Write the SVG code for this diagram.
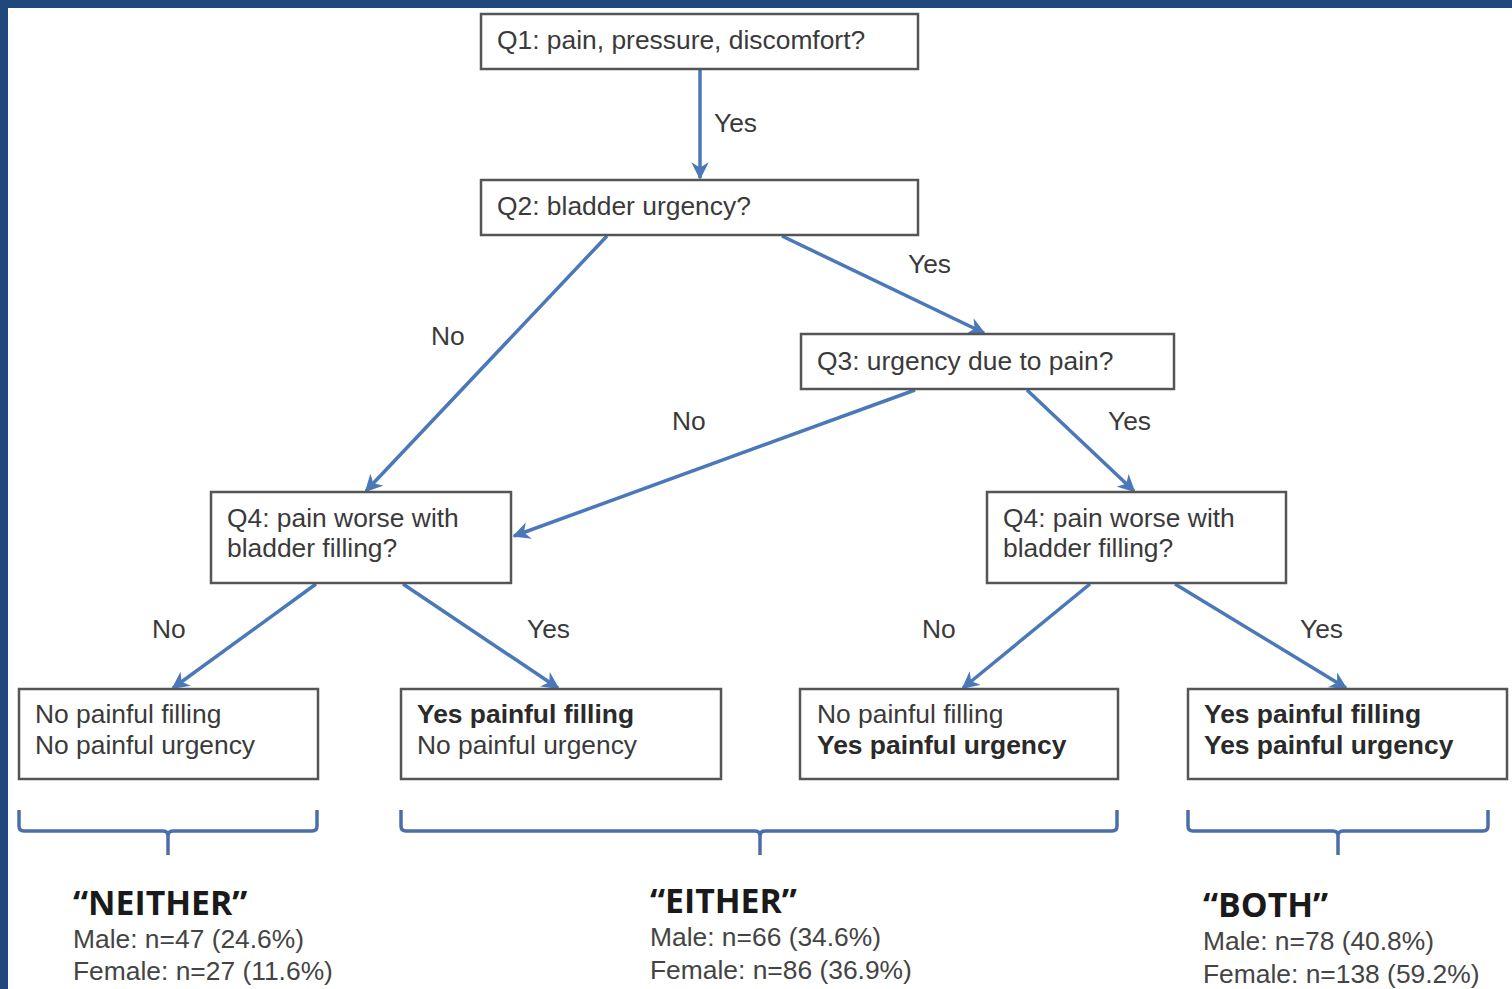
<svg xmlns="http://www.w3.org/2000/svg" width="1512" height="989" viewBox="0 0 1512 989">
<defs>
<marker id="ah" viewBox="0 0 10 10" refX="9" refY="5" markerWidth="5" markerHeight="5" orient="auto" markerUnits="strokeWidth">
<path d="M0,0 L10,5 L0,10 L3,5 Z" fill="#4a78b8"/>
</marker>
<style>
.box{fill:#fff;stroke:#555;stroke-width:2.5}
.t{font-family:"Liberation Sans",Arial,sans-serif;font-size:26.4px;fill:#3a3a3a}
.b{font-weight:bold;fill:#2a2a2a}
.lbl{font-family:"Liberation Sans",Arial,sans-serif;font-size:26.4px;fill:#3a3a3a}
.edge{stroke:#4a78b8;stroke-width:3.5;fill:none;marker-end:url(#ah)}
.brace{stroke:#4a6fa8;stroke-width:3.5;fill:none;stroke-linejoin:round}
.cat{font-family:"Open Sans","Liberation Sans",sans-serif;font-size:33.8px;font-weight:bold;fill:#1a1a1a}
.st{font-family:"Liberation Sans",Arial,sans-serif;font-size:26.4px;fill:#444}
</style>
</defs>
<rect x="0" y="0" width="1512" height="989" fill="#fff"/>
<rect x="0" y="0" width="1512" height="8" fill="#1f497d"/>
<rect x="0" y="0" width="8" height="989" fill="#1f497d"/>

<g id="connectors">
<line class="edge" x1="700" y1="69" x2="700" y2="178"/>
<text class="lbl" x="714" y="132">Yes</text>
<line class="edge" x1="607" y1="236" x2="366" y2="491"/>
<text class="lbl" x="431" y="345">No</text>
<line class="edge" x1="782" y1="236" x2="984" y2="333"/>
<text class="lbl" x="908" y="273">Yes</text>
<line class="edge" x1="915" y1="390" x2="514" y2="536"/>
<text class="lbl" x="672" y="430">No</text>
<line class="edge" x1="1027" y1="390" x2="1134" y2="491"/>
<text class="lbl" x="1108" y="430">Yes</text>
<line class="edge" x1="316" y1="584" x2="173" y2="688"/>
<text class="lbl" x="152" y="638">No</text>
<line class="edge" x1="403" y1="584" x2="558" y2="688"/>
<text class="lbl" x="527" y="638">Yes</text>
<line class="edge" x1="1090" y1="584" x2="963" y2="688"/>
<text class="lbl" x="922" y="638">No</text>
<line class="edge" x1="1175" y1="584" x2="1346" y2="688"/>
<text class="lbl" x="1300" y="638">Yes</text>
</g>

<g id="q1">
<rect class="box" x="481" y="14" width="437" height="55"/>
<text class="t" x="497" y="49">Q1: pain, pressure, discomfort?</text>
</g>
<g id="q2">
<rect class="box" x="481" y="180" width="437" height="55"/>
<text class="t" x="497" y="215">Q2: bladder urgency?</text>
</g>
<g id="q3">
<rect class="box" x="801" y="334" width="373" height="55"/>
<text class="t" x="817" y="370">Q3: urgency due to pain?</text>
</g>
<g id="q4left">
<rect class="box" x="211" y="492" width="300" height="91"/>
<text class="t" x="227" y="527">Q4: pain worse with</text>
<text class="t" x="227" y="557">bladder filling?</text>
</g>
<g id="q4right">
<rect class="box" x="987" y="492" width="299" height="91"/>
<text class="t" x="1003" y="527">Q4: pain worse with</text>
<text class="t" x="1003" y="557">bladder filling?</text>
</g>
<g id="leaf1">
<rect class="box" x="19" y="689" width="299" height="90"/>
<text class="t" x="35" y="723">No painful filling</text>
<text class="t" x="35" y="754">No painful urgency</text>
</g>
<g id="leaf2">
<rect class="box" x="401" y="689" width="320" height="90"/>
<text class="t b" x="417" y="723">Yes painful filling</text>
<text class="t" x="417" y="754">No painful urgency</text>
</g>
<g id="leaf3">
<rect class="box" x="800" y="689" width="318" height="90"/>
<text class="t" x="817" y="723">No painful filling</text>
<text class="t b" x="817" y="754">Yes painful urgency</text>
</g>
<g id="leaf4">
<rect class="box" x="1188" y="689" width="319" height="90"/>
<text class="t b" x="1204" y="723">Yes painful filling</text>
<text class="t b" x="1204" y="754">Yes painful urgency</text>
</g>

<g id="braces">
<path class="brace" d="M19,810 V826 Q19,831 24,831 H163 Q168,831 168,836 V855 M168,836 Q168,831 173,831 H312 Q317,831 317,826 V810"/>
<path class="brace" d="M401,810 V826 Q401,831 406,831 H755 Q760,831 760,836 V855 M760,836 Q760,831 765,831 H1112 Q1117,831 1117,826 V810"/>
<path class="brace" d="M1188,810 V826 Q1188,831 1193,831 H1333 Q1338,831 1338,836 V855 M1338,836 Q1338,831 1343,831 H1483 Q1488,831 1488,826 V810"/>
</g>

<g id="neither">
<text class="cat" x="73" y="915">“NEITHER”</text>
<text class="st" x="73" y="948">Male: n=47 (24.6%)</text>
<text class="st" x="73" y="980">Female: n=27 (11.6%)</text>
</g>
<g id="either">
<text class="cat" x="650" y="913">“EITHER”</text>
<text class="st" x="650" y="946">Male: n=66 (34.6%)</text>
<text class="st" x="650" y="979">Female: n=86 (36.9%)</text>
</g>
<g id="both">
<text class="cat" x="1203" y="917">“BOTH”</text>
<text class="st" x="1203" y="950">Male: n=78 (40.8%)</text>
<text class="st" x="1203" y="983">Female: n=138 (59.2%)</text>
</g>
</svg>
